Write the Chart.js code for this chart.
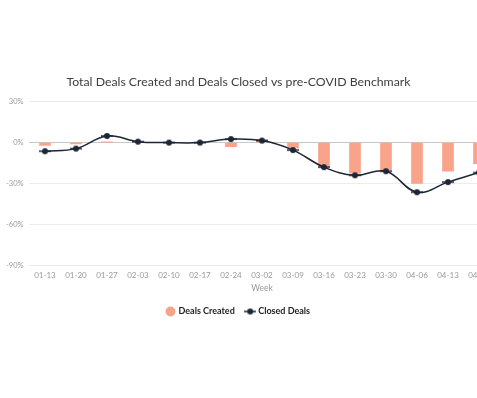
<!DOCTYPE html>
<html lang="en">
<head>
  <meta charset="UTF-8">
  <title>Total Deals Created and Deals Closed vs pre-COVID Benchmark</title>
  <script src="https://cdn.jsdelivr.net/npm/chart.js"></script>
  <style>
    html, body { margin: 0; padding: 0; background: #fff; overflow: hidden; }
    .page { width: 477px; height: 398px; overflow: hidden; }
    .wrap { position: relative; width: 500px; height: 398px; }
  </style>
</head>
<body>
<div class="page">
  <div class="wrap">
    <canvas id="dealsChart"></canvas>
  </div>
</div>

<script>
  // data (percent vs pre-COVID benchmark)
  const weeks = ['01-13', '01-20', '01-27', '02-03', '02-10', '02-17', '02-24', '03-02',
                 '03-09', '03-16', '03-23', '03-30', '04-06', '04-13', '04-20'];
  const dealsCreated = [-2, -1, 0.5, 0, 0, 0, -3, 2, -4, -18, -22.5, -20, -30, -21, -15.5];
  const closedDeals = [-6.3, -4.4, 4.9, 0.7, 0, 0, 2.6, 1.5, -5.5, -18, -24, -21, -36.4, -29, -22];
  const yTicks = [30, 0, -30, -60, -90];

  const navy = '#1c2636';
  const salmon = '#f9a38b';
  const visibleWidth = 477;

  // little "-o-" marker for the line series legend entry
  const lineMark = document.createElement('canvas');
  lineMark.width = 12; lineMark.height = 8;
  (function () {
    const c = lineMark.getContext('2d');
    c.strokeStyle = navy; c.lineWidth = 1.5;
    c.beginPath(); c.moveTo(0, 4); c.lineTo(12, 4); c.stroke();
    c.fillStyle = navy;
    c.beginPath(); c.arc(6, 4, 3, 0, Math.PI * 2); c.fill();
  })();

  // title + legend stay centred on the visible page while the plot runs past the right edge
  const recenter = {
    id: 'recenter',
    afterLayout(chart) {
      [chart.titleBlock, chart.legend].forEach(b => {
        if (b) { b.left = 0; b.right = visibleWidth; b.width = visibleWidth; }
      });
    }
  };

  new Chart(document.getElementById('dealsChart'), {
    type: 'bar',
    data: {
      labels: weeks,
      datasets: [{
        type: 'line',
        label: 'Closed Deals',
        data: closedDeals,
        borderColor: navy,
        backgroundColor: navy,
        borderWidth: 1.5,
        pointRadius: 3,
        pointBackgroundColor: navy,
        tension: 0.4,
        pointStyle: lineMark,
        order: 0
      }, {
        label: 'Deals Created',
        data: dealsCreated,
        backgroundColor: salmon,
        barThickness: 11,
        pointStyle: 'circle',
        order: 1
      }]
    },
    options: {
      responsive: true,
      maintainAspectRatio: false,
      animation: false,
      layout: { padding: { top: 75, bottom: 72, left: 0, right: 0 } },
      plugins: {
        title: {
          display: true,
          text: 'Total Deals Created and Deals Closed vs pre-COVID Benchmark',
          color: '#3d3d3d',
          font: { family: 'Lato', size: 12.3, weight: 'normal' },
          padding: { top: 0, bottom: 12 }
        },
        legend: {
          position: 'bottom',
          reverse: true,
          labels: {
            usePointStyle: true,
            boxWidth: 7,
            boxHeight: 7,
            padding: 12,
            color: '#222',
            font: { family: 'Lato', size: 9, weight: 'bold' }
          }
        },
        tooltip: { enabled: false }
      },
      scales: {
        x: {
          grid: { display: false, drawTicks: false },
          border: { display: false },
          ticks: { color: '#9a9a9a', font: { family: 'Lato', size: 8 }, padding: 5, maxRotation: 0, autoSkip: false },
          title: { display: true, text: 'Week', color: '#9a9a9a', font: { family: 'Lato', size: 8.5 }, padding: { top: -2, bottom: 2 } }
        },
        y: {
          min: -90,
          max: 30,
          afterBuildTicks(axis) { axis.ticks = yTicks.map(v => ({ value: v })); },
          border: { display: false },
          grid: {
            drawTicks: false,
            color: ctx => ctx.tick && ctx.tick.value === 0 ? '#c8c8c8' : '#ececec',
            lineWidth: 1
          },
          ticks: {
            color: '#9a9a9a',
            font: { family: 'Lato', size: 7.5 },
            padding: 6,
            callback: v => v + '%'
          }
        }
      }
    },
    plugins: [recenter]
  });
</script>
</body>
</html>
